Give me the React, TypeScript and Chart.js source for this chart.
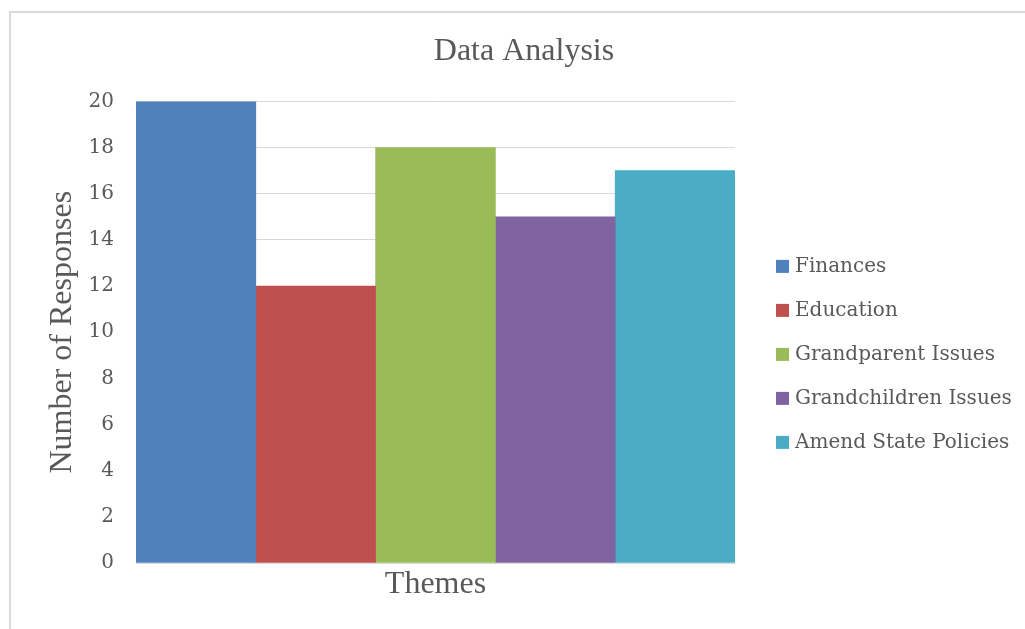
import React, { useEffect, useRef } from "react";
import { Chart, registerables } from "chart.js";

Chart.register(...registerables);

const categories = ["Themes"];
const seriesNames = ["Finances", "Education", "Grandparent Issues", "Grandchildren Issues", "Amend State Policies"];
const financesValues = [20];
const educationValues = [12];
const grandparentValues = [18];
const grandchildrenValues = [15];
const amendValues = [17];
const seriesColors = ["#4F81BD", "#C0504D", "#9BBB59", "#8064A2", "#4BACC6"];
const yTicks = [0, 2, 4, 6, 8, 10, 12, 14, 16, 18, 20];

const sideLegend = {
  id: "sideLegend",
  afterDraw(chart: any) {
    const { ctx, chartArea } = chart;
    const boxX = chartArea.right + 41;
    const firstY = chartArea.top + 165;
    const rowGap = 44;
    const box = 13;
    ctx.save();
    ctx.font = "20px 'DejaVu Serif', serif";
    ctx.textBaseline = "middle";
    ctx.textAlign = "left";
    chart.data.datasets.forEach((ds: any, i: number) => {
      const cy = firstY + i * rowGap;
      ctx.fillStyle = ds.backgroundColor;
      ctx.fillRect(boxX, cy - box / 2, box, box);
      ctx.fillStyle = "#595959";
      ctx.fillText(ds.label, boxX + box + 6, cy);
    });
    ctx.restore();
  },
};

export default function App() {
  const canvasRef = useRef<HTMLCanvasElement | null>(null);

  useEffect(() => {
    if (!canvasRef.current) return;
    const values = [financesValues, educationValues, grandparentValues, grandchildrenValues, amendValues];
    const chart = new Chart(canvasRef.current, {
      type: "bar",
      data: {
        labels: categories,
        datasets: seriesNames.map((name, i) => ({
          label: name,
          data: values[i],
          backgroundColor: seriesColors[i],
          borderWidth: 0,
          barPercentage: 1,
          categoryPercentage: 1,
          yAxisID: "y",
        })),
      },
      plugins: [sideLegend],
      options: {
        responsive: false,
        animation: false,
        devicePixelRatio: 1,
        layout: { padding: { left: 23, right: 0, top: 0, bottom: 25 } },
        plugins: {
          tooltip: { enabled: false },
          legend: { display: false },
          title: {
            display: true,
            text: "Data Analysis",
            color: "#595959",
            font: { family: "'Liberation Serif', serif", size: 32, weight: "normal" },
            padding: { top: 32, bottom: 31 },
          },
        },
        scales: {
          x: {
            grid: { display: false },
            border: { display: true, color: "#d9d9d9", width: 1 },
            ticks: { display: false },
            title: {
              display: true,
              text: "Themes",
              color: "#595959",
              font: { family: "'Liberation Serif', serif", size: 32, weight: "normal" },
              padding: { top: 0, bottom: 0 },
            },
            afterFit: (scale: any) => {
              scale.height = 41;
            },
          },
          y: {
            position: "left",
            min: 0,
            max: 20,
            grid: { color: "#d9d9d9", lineWidth: 1, drawTicks: false },
            border: { display: false },
            afterBuildTicks: (scale: any) => {
              scale.ticks = yTicks.map((v) => ({ value: v }));
            },
            ticks: {
              padding: 22,
              color: "#595959",
              font: { family: "'DejaVu Serif', serif", size: 20 },
            },
            title: {
              display: true,
              text: "Number of Responses",
              color: "#595959",
              font: { family: "'Liberation Serif', serif", size: 32, weight: "normal" },
              padding: { top: 20, bottom: 0 },
            },
            afterFit: (scale: any) => {
              scale.width = 113;
            },
          },
          spacer: {
            type: "linear",
            position: "right",
            min: 0,
            max: 1,
            display: true,
            grid: { display: false },
            border: { display: false },
            ticks: { display: false },
            title: { display: false },
            afterFit: (scale: any) => {
              scale.width = 290;
            },
          },
        },
      },
    });
    return () => chart.destroy();
  }, []);

  return (
    <div
      style={{
        position: "fixed",
        left: 0,
        top: 0,
        width: 1025,
        height: 629,
        overflow: "hidden",
        background: "#ffffff",
      }}
    >
      <div
        style={{
          position: "absolute",
          left: 9,
          top: 11,
          width: 1100,
          height: 700,
          border: "2px solid #d9d9d9",
          boxSizing: "border-box",
        }}
      />
      <canvas
        ref={canvasRef}
        width={1025}
        height={629}
        style={{ position: "absolute", left: 0, top: 0, width: 1025, height: 629 }}
      />
    </div>
  );
}
